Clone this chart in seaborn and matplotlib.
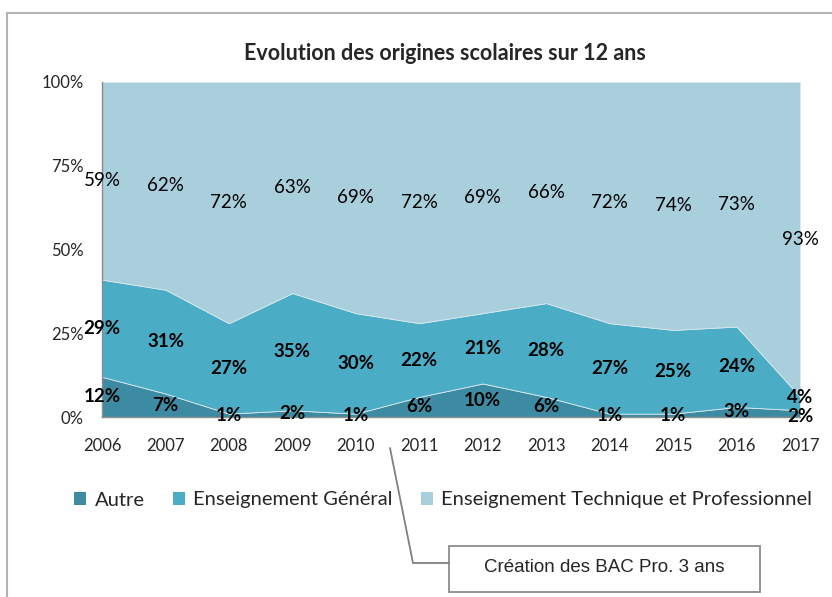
import numpy as np
import pandas as pd
import seaborn as sns
import matplotlib.pyplot as plt
from matplotlib.patches import Patch, Rectangle
from matplotlib.lines import Line2D

years = [2006, 2007, 2008, 2009, 2010, 2011, 2012, 2013, 2014, 2015, 2016, 2017]
autre = [12, 7, 1, 2, 1, 6, 10, 6, 1, 1, 3, 2]
general = [29, 31, 27, 35, 30, 22, 21, 28, 27, 25, 24, 4]
technique = [59, 62, 72, 63, 69, 72, 69, 66, 72, 74, 73, 93]
series_names = ["Autre", "Enseignement Général", "Enseignement Technique et Professionnel"]
colors = ["#3D8BA2", "#4BACC6", "#A9CEDC"]

df = pd.DataFrame({"year": years, series_names[0]: autre,
                   series_names[1]: general, series_names[2]: technique})

sns.set_theme(style="white")
plt.rcParams["font.family"] = ["Lato", "DejaVu Sans"]

fig = plt.figure(figsize=(8.32, 5.97), dpi=100)
ax = fig.add_axes([102/832, 1-417/597, 698/832, 335/597])

# 100% stacked shares
vals = df[series_names].to_numpy(dtype=float)
shares = vals / vals.sum(axis=1, keepdims=True) * 100
ax.stackplot(df["year"], shares.T, colors=colors, linewidth=0.6, edgecolor="#d8e8ee")

# data labels centred in each band, pushed apart when too close
bottoms = np.cumsum(shares, axis=1) - shares
mids = bottoms + shares / 2
for i in range(len(years)):
    gap = mids[i, 1] - mids[i, 0]
    if gap < 5.5:
        mids[i, 1] += (5.5 - gap) * 0.7
        mids[i, 0] -= (5.5 - gap) * 0.3
for i, yr in enumerate(years):
    for j in range(3):
        ax.text(yr, mids[i, j], f"{vals[i, j]:.0f}%", ha="center", va="center",
                fontsize=13.5, fontweight="bold" if j < 2 else "normal", color="black")

ax.set_xlim(2006, 2017)
ax.set_ylim(0, 100)
ax.set_xticks(years)
ax.set_xticklabels([str(y) for y in years])
ax.set_yticks([0, 25, 50, 75, 100])
ax.set_yticklabels(["0%", "25%", "50%", "75%", "100%"])
ax.tick_params(axis="y", length=0, pad=13, labelsize=12)
ax.tick_params(axis="x", length=0, pad=15, labelsize=12)
for side in ["top", "right"]:
    ax.spines[side].set_visible(False)
for side in ["left", "bottom"]:
    ax.spines[side].set_color("#8c8c8c")
    ax.spines[side].set_linewidth(1)
ax.set_xlabel("")
ax.set_ylabel("")

fig.suptitle("Evolution des origines scolaires sur 12 ans", x=445/832, y=1-53/597,
             va="center", fontsize=15.5, fontweight="bold")

handles = [Patch(facecolor=c, edgecolor="none") for c in colors]
fig.legend(handles, series_names, loc="center", bbox_to_anchor=(443/832, 1-500/597),
           ncol=3, frameon=False, fontsize=14.5, handlelength=0.6, handleheight=0.6,
           handletextpad=0.4, columnspacing=1.4)

# outer chart frame
fig.add_artist(Rectangle((7/832, -0.1), 1.2, 1-13/597+0.1, transform=fig.transFigure,
                         fill=False, edgecolor="#b4b4b4", linewidth=1.5))

# callout
px = lambda x, y: (x/832, 1-y/597)
(x0, y0), (x1, y1), (x2, y2) = px(390, 448), px(413, 563), px(449, 563)
fig.add_artist(Line2D([x0, x1, x2], [y0, y1, y2], transform=fig.transFigure,
                      color="#808080", linewidth=1.3))
bx, by = px(449, 592)
fig.add_artist(Rectangle((bx, by), 311/832, 46/597, transform=fig.transFigure,
                         facecolor="white", edgecolor="#8c8c8c", linewidth=1.3))
fig.text(604/832, 1-568/597, "Création des BAC Pro. 3 ans", ha="center", va="center",
         fontsize=13.5, family="Liberation Sans")

fig.savefig("out.png", dpi=100)
